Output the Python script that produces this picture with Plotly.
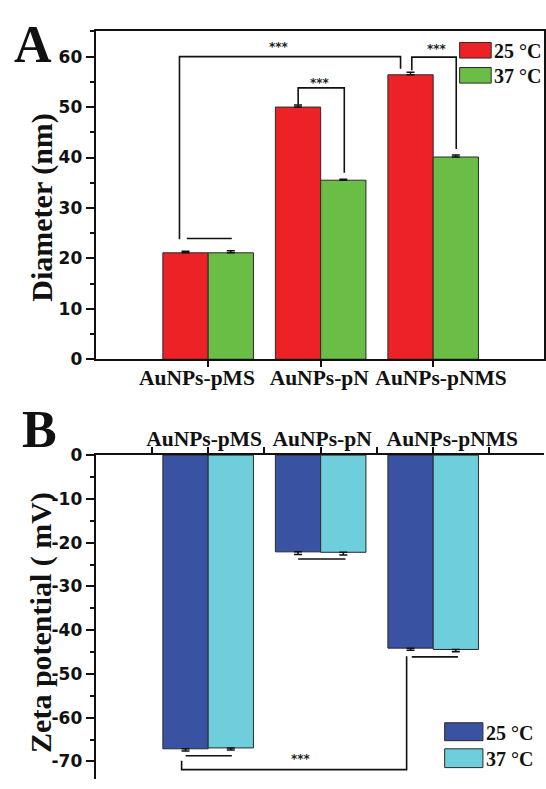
import plotly.graph_objects as go

# ---------------- data ----------------
categories = ["AuNPs-pMS", "AuNPs-pN", "AuNPs-pNMS"]
series_names = ["25 °C", "37 °C"]

diameter_25 = [21.1, 50.0, 56.4]
diameter_25_err = [0.3, 0.4, 0.5]
diameter_37 = [21.1, 35.5, 40.1]
diameter_37_err = [0.4, 0.2, 0.4]

zeta_25 = [-67.1, -22.1, -44.1]
zeta_25_err = [0.5, 0.6, 0.5]
zeta_37 = [-66.9, -22.2, -44.4]
zeta_37_err = [0.5, 0.6, 0.5]

yticks_A = [0, 10, 20, 30, 40, 50, 60]
yticks_B = [0, -10, -20, -30, -40, -50, -60, -70]

# category label centres as placed in the original figure (category-index units)
label_pos_A = [-0.10, 0.987, 2.07]
label_pos_B = [-0.036, 1.013, 2.17]

# significance brackets (data coordinates: category index, value)
brackets_A = [
    [(-0.255, 23.8), (-0.255, 60.0), (1.71, 60.0), (1.71, 57.6)],
    [(0.80, 50.5), (0.80, 53.8), (1.21, 53.8), (1.21, 37.0)],
    [(1.81, 57.3), (1.81, 59.9), (2.205, 59.9), (2.205, 41.7)],
    [(-0.19, 23.95), (0.21, 23.95)],
]
stars_A = [(0.63, 62.0), (0.99, 54.8), (2.035, 61.6)]

brackets_B = [
    [(-0.20, -68.7), (0.21, -68.7)],
    [(0.80, -23.75), (1.22, -23.75)],
    [(1.81, -46.1), (2.22, -46.1)],
    [(-0.236, -69.85), (-0.236, -71.85), (1.764, -71.85), (1.764, -45.95)],
]
stars_B = [(0.824, -69.5)]

colors_A = ["#EC2227", "#6ABD45"]
colors_B = ["#3A52A2", "#6FCEDC"]

W, H = 546, 789
SERIF = "Liberation Serif"
SANS = "DejaVu Sans"

x_idx = list(range(len(categories)))

fig = go.Figure()

def add_bar(x, y, err, color, xa, ya, up):
    fig.add_trace(go.Bar(
        x=x, y=y, marker=dict(color=color, line=dict(color="#2a2a2a", width=1)),
        error_y=dict(type="data", symmetric=False,
                     array=err if up else [0] * len(err),
                     arrayminus=[0] * len(err) if up else err,
                     color="#111", thickness=1.5, width=4),
        xaxis=xa, yaxis=ya, showlegend=False,
    ))

add_bar(x_idx, diameter_25, diameter_25_err, colors_A[0], "x", "y", True)
add_bar(x_idx, diameter_37, diameter_37_err, colors_A[1], "x", "y", True)
add_bar(x_idx, zeta_25, zeta_25_err, colors_B[0], "x2", "y2", False)
add_bar(x_idx, zeta_37, zeta_37_err, colors_B[1], "x2", "y2", False)
# invisible anchors so the label axes are drawn
for xa, ya in (("x3", "y"), ("x4", "y2")):
    fig.add_trace(go.Scatter(x=[0], y=[0], mode="markers", marker=dict(opacity=0),
                             xaxis=xa, yaxis=ya, showlegend=False, hoverinfo="skip"))

shapes = []
annotations = []

def path_of(pts):
    return "M " + " L ".join(f"{x},{y}" for x, y in pts)

for pts in brackets_A:
    shapes.append(dict(type="path", path=path_of(pts), xref="x", yref="y",
                       line=dict(color="#111", width=1.6)))
for pts in brackets_B:
    shapes.append(dict(type="path", path=path_of(pts), xref="x2", yref="y2",
                       line=dict(color="#111", width=1.6)))
for x, y in stars_A:
    annotations.append(dict(x=x, y=y, xref="x", yref="y", text="<b>***</b>",
                            showarrow=False, font=dict(family=SANS, size=12, color="#222")))
for x, y in stars_B:
    annotations.append(dict(x=x, y=y, xref="x2", yref="y2", text="<b>***</b>",
                            showarrow=False, font=dict(family=SANS, size=12, color="#222")))

# custom legends (paper coords from pixels)
def px(x):
    return x / W

def py(y):
    return 1 - y / H

legend_A = [(461.3, 493.0, 33.3, 49.3), (461.3, 493.0, 59.0, 75.0)]
legend_B = [(446.3, 484.7, 731.3, 749.7), (446.3, 484.7, 758.0, 777.3)]
for boxes, cols in ((legend_A, colors_A), (legend_B, colors_B)):
    for (x0, x1, y0, y1), c, name in zip(boxes, cols, series_names):
        shapes.append(dict(type="rect", xref="paper", yref="paper",
                           x0=px(x0), x1=px(x1), y0=py(y1), y1=py(y0),
                           fillcolor=c, line=dict(color="#2a2a2a", width=1)))
        annotations.append(dict(x=px(x1 + 1), y=py((y0 + y1) / 2 + 1), xref="paper", yref="paper",
                                xanchor="left", yanchor="middle", showarrow=False,
                                text=f"<b>{name}</b>",
                                font=dict(family=SERIF, size=20, color="#111")))

# panel letters
annotations.append(dict(x=px(12), y=py(4), xref="paper", yref="paper", xanchor="left",
                        yanchor="top", showarrow=False, text="<b>A</b>",
                        font=dict(family=SERIF, size=52, color="#111")))
annotations.append(dict(x=px(20), y=py(399), xref="paper", yref="paper", xanchor="left",
                        yanchor="top", showarrow=False, text="<b>B</b>",
                        font=dict(family=SERIF, size=52, color="#111")))

# axis titles
annotations.append(dict(x=px(42), y=py(202), xref="paper", yref="paper", textangle=-90,
                        xanchor="center", yanchor="middle", showarrow=False,
                        text="<b>Diameter (nm)</b>",
                        font=dict(family=SERIF, size=30, color="#111")))
annotations.append(dict(x=px(41), y=py(628), xref="paper", yref="paper", textangle=-90,
                        xanchor="center", yanchor="middle", showarrow=False,
                        text="<b>Zeta potential ( mV)</b>",
                        font=dict(family=SERIF, size=30, color="#111")))

tickfont_y = dict(family=SANS, size=17, color="#111", weight="bold")
tickfont_x = dict(family=SERIF, size=21.5, color="#111", weight="bold")

xdom = [96 / W, 1.0]
XR = [-1, 2.985]
fig.update_layout(
    width=W, height=H, margin=dict(l=0, r=0, t=0, b=0),
    paper_bgcolor="white", plot_bgcolor="white",
    barmode="group", bargap=0.195, bargroupgap=0,
    shapes=shapes, annotations=annotations,
    xaxis=dict(domain=xdom, range=XR, anchor="y",
               tickmode="array", tickvals=x_idx, showticklabels=False,
               ticks="outside", ticklen=6, tickwidth=1.5, tickcolor="#111",
               showline=True, linewidth=2, linecolor="#111", mirror=True,
               showgrid=False, zeroline=False),
    xaxis3=dict(domain=xdom, range=XR, anchor="y", overlaying="x", side="bottom",
                tickmode="array", tickvals=label_pos_A, ticktext=categories, tickangle=0,
                ticks="", ticklabelstandoff=3, showline=False,
                showgrid=False, zeroline=False, tickfont=tickfont_x),
    yaxis=dict(domain=[1 - 358.3 / H, 1 - 22 / H], range=[0, 65], anchor="x",
               tickmode="array", tickvals=yticks_A, ticktext=[str(v) for v in yticks_A],
               ticks="outside", ticklen=8, tickwidth=1.5, tickcolor="#111",
               minor=dict(dtick=5, ticks="outside", ticklen=4, tickwidth=1.5, tickcolor="#111"),
               showline=True, linewidth=2, linecolor="#111", mirror=True,
               showgrid=False, zeroline=False, tickfont=tickfont_y),
    xaxis2=dict(domain=xdom, range=XR, anchor="y2", side="top",
                tickmode="array", tickvals=x_idx, showticklabels=False,
                ticks="outside", ticklen=6, tickwidth=1.5, tickcolor="#111",
                minor=dict(tickmode="array", tickvals=[-0.5, 0.5, 1.5, 2.5],
                           ticks="outside", ticklen=6, tickwidth=1.5, tickcolor="#111"),
                showline=True, linewidth=2, linecolor="#111",
                showgrid=False, zeroline=False),
    xaxis4=dict(domain=xdom, range=XR, anchor="y2", overlaying="x2", side="top",
                tickmode="array", tickvals=label_pos_B, ticktext=categories, tickangle=0,
                ticks="", ticklabelstandoff=4, showline=False,
                showgrid=False, zeroline=False, tickfont=tickfont_x),
    yaxis2=dict(domain=[0, 1 - 456.7 / H], range=[-74, 0], anchor="x2",
                tickmode="array", tickvals=yticks_B, ticktext=[str(v) for v in yticks_B],
                ticks="outside", ticklen=8, tickwidth=1.5, tickcolor="#111",
                minor=dict(tickmode="array", tickvals=[-5, -15, -25, -35, -45, -55, -65],
                           ticks="outside", ticklen=4, tickwidth=1.5, tickcolor="#111"),
                showline=True, linewidth=2, linecolor="#111",
                showgrid=False, zeroline=False, tickfont=tickfont_y),
)

fig.write_html("out.html")
